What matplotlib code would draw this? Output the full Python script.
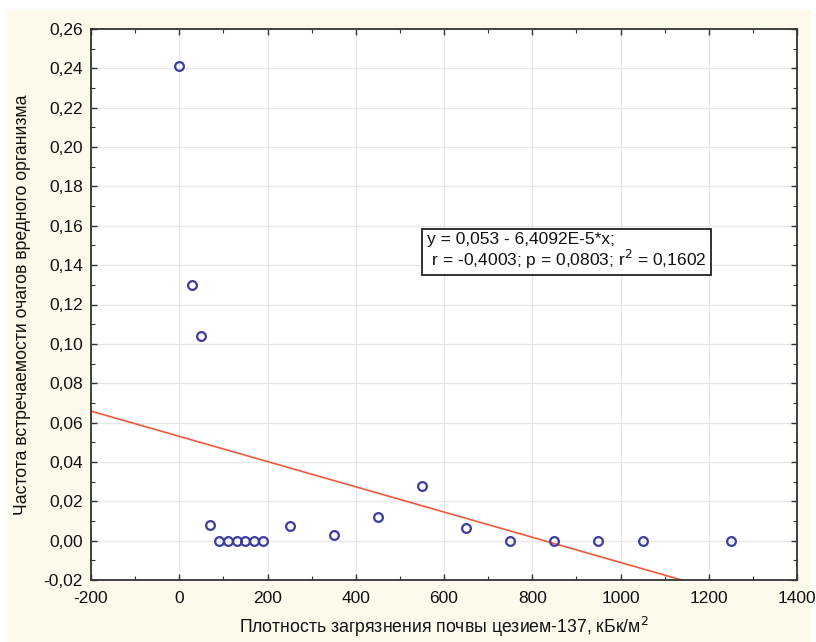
import numpy as np
import matplotlib.pyplot as plt
from matplotlib.patches import Rectangle
from matplotlib.ticker import MultipleLocator

plt.rcParams['font.family'] = ['Liberation Sans', 'DejaVu Sans']

# density of soil contamination (kBq/m2) and frequency of pest foci
density = [0, 30, 50, 70, 90, 110, 130, 150, 170, 190, 250, 350, 450, 550,
           650, 750, 850, 950, 1050, 1250]
frequency = [0.241, 0.130, 0.104, 0.008, 0.0, 0.0, 0.0, 0.0, 0.0, 0.0, 0.0075,
             0.003, 0.012, 0.028, 0.0065, 0.0, 0.0, 0.0, 0.0, 0.0]

# regression from the box
intercept = 0.053
slope = -6.4092e-5

x_ticks = [-200, 0, 200, 400, 600, 800, 1000, 1200, 1400]
y_ticks = [-0.02, 0.0, 0.02, 0.04, 0.06, 0.08, 0.10, 0.12, 0.14, 0.16, 0.18,
           0.20, 0.22, 0.24, 0.26]

W, H = 816, 642
fig = plt.figure(figsize=(W / 100, H / 100), dpi=100)
fig.patch.set_facecolor('white')
fig.patches.append(Rectangle((7 / W, 0), (811 - 7) / W, (H - 10) / H,
                             transform=fig.transFigure, facecolor='#fdfaec',
                             edgecolor='none', zorder=-10))

ax = fig.add_axes([91 / W, 1 - 580 / H, (797 - 91) / W, (580 - 29) / H])
ax.set_facecolor('white')

ax.grid(True, color='#e6e6e6', linewidth=0.9, zorder=0)
ax.set_axisbelow(True)

xs = np.array([-200, 1400])
ax.plot(xs, intercept + slope * xs, color='#f0583a', linewidth=1.2, zorder=2)
ax.plot(density, frequency, linestyle='none', marker='o', markersize=6.3,
        markerfacecolor='none', markeredgecolor='#3d3d9e', markeredgewidth=1.6,
        zorder=3, clip_on=False)

ax.set_xlim(-200, 1400)
ax.set_ylim(-0.02, 0.26)
ax.set_xticks(x_ticks)
ax.set_xticklabels([str(v) for v in x_ticks])
ax.set_yticks(y_ticks)
ax.set_yticklabels([f"{v:.2f}".replace('.', ',') for v in y_ticks])
ax.xaxis.set_minor_locator(MultipleLocator(100))
ax.yaxis.set_minor_locator(MultipleLocator(0.01))
ax.tick_params(which='both', direction='in', top=True, right=True,
               color='#333333', labelsize=12.5, labelcolor='#111111')
ax.tick_params(which='major', length=4, width=1)
ax.tick_params(which='minor', length=3, width=0.8)
ax.tick_params(axis='x', which='major', pad=8)
ax.tick_params(axis='y', which='major', pad=6)
for s in ax.spines.values():
    s.set_linewidth(1.3)
    s.set_color('#333333')

ax.set_xlabel('Плотность загрязнения почвы цезием-137, кБк/м$^2$', fontsize=12.7,
              labelpad=6, color='#111111')
ax.set_ylabel('Частота встречаемости очагов вредного организма', fontsize=12.7,
              labelpad=9, color='#111111')

ax.text(0.4755, 0.632,
        'y = 0,053 - 6,4092E-5*x;\n r = -0,4003; p = 0,0803; r$^2$ = 0,1602',
        transform=ax.transAxes, ha='left', va='top', fontsize=12.5,
        linespacing=1.05, color='#111111',
        bbox=dict(boxstyle='square,pad=0.25', facecolor='white',
                  edgecolor='#222222', linewidth=1.3), zorder=5)

fig.savefig('out.png', dpi=100)
